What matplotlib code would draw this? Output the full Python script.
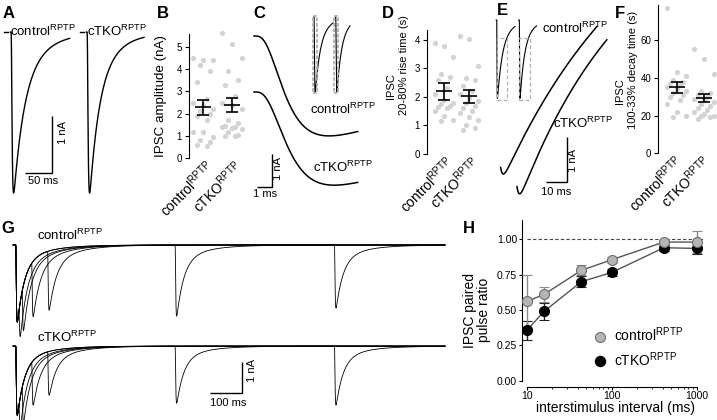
import numpy as np
import matplotlib
matplotlib.use("Agg")
import matplotlib.pyplot as plt
import matplotlib.transforms as mtransforms
from matplotlib.patches import Rectangle
from matplotlib.lines import Line2D

plt.rcParams['font.family'] = ['Liberation Sans', 'DejaVu Sans']
plt.rcParams['mathtext.fontset'] = 'custom'
plt.rcParams['mathtext.rm'] = 'Liberation Sans'
plt.rcParams['mathtext.it'] = 'Liberation Sans:italic'
plt.rcParams['mathtext.bf'] = 'Liberation Sans:bold'
plt.rcParams['axes.linewidth'] = 0.8

W, H = 717, 420
groups = [r'control$^{\mathrm{RPTP}}$', r'cTKO$^{\mathrm{RPTP}}$']

# A: example IPSCs (nA, ms)
a_amp = [2.84, 2.84]
a_rise = [1.1, 1.1]
a_decay = [20, 18]
a_slow = [0.25, 0.25]
a_slow_decay = [50, 45]
a_end = [110, 107]

# B: IPSC amplitude (nA)
b_ctrl = [4.5, 4.4, 4.4, 4.2, 3.9, 3.4, 2.65, 2.5, 2.4, 2.2, 2.1, 2.0, 1.9, 1.7,
          1.2, 1.2, 0.95, 0.8, 0.75, 0.6, 0.55]
b_ctko = [5.6, 5.1, 4.5, 3.9, 3.5, 3.3, 2.8, 2.5, 2.4, 2.2, 1.7, 1.6, 1.45, 1.4,
          1.4, 1.35, 1.3, 1.2, 1.05, 1.0, 1.0]
b_mean = [2.29, 2.37]
b_sem = [0.33, 0.31]

# C: rising phase
c_amp = [3.0, 2.8]
c_rise = [1.1, 1.2]
c_decay = [21, 21]
c_offset = [0, -1.68]

# D: 20-80% rise time
d_ctrl = [3.9, 3.8, 3.4, 2.8, 2.7, 2.6, 2.3, 2.1, 1.9, 1.8, 1.75, 1.7, 1.65, 1.6,
          1.5, 1.35, 1.2, 1.15]
d_ctko = [4.15, 4.05, 3.1, 2.65, 2.6, 2.4, 2.2, 2.1, 1.95, 1.85, 1.8, 1.7, 1.6,
          1.5, 1.45, 1.3, 1.2, 1.0, 0.9, 0.85]
d_mean = [2.2, 2.02]
d_sem = [0.29, 0.24]

# E: decay phase
e_amp = [7.0, 6.5]
e_decay = [70, 55]
e_onset = [-5.6, 2.5]
e_offset = [0, -0.94]
e_span = [(-1.3, 45.2), (6.6, 50.0)]

# F: 100-33% decay time
f_ctrl = [77, 43, 41, 39, 38, 37, 36, 35, 34, 33, 32, 31, 30, 28, 26, 22, 20, 19]
f_ctko = [55, 50, 42, 33, 32, 31, 30, 29, 28, 27, 26, 25, 24, 23, 22, 21, 20, 20,
          19, 18]
f_mean = [34.9, 29.1]
f_sem = [3.05, 2.1]

# G: paired pulses
g_isi = [10, 20, 50, 100, 500, 1000]
g_first = [2.43, 2.18]
g_second = [[1.1, 1.45, 1.75, 1.87, 2.24, 1.99],
            [0.95, 1.3, 1.4, 1.38, 1.8, 1.86]]
g_offset = [0, -3.19]

# H: paired pulse ratio
h_isi = [10, 16, 44, 100, 410, 1000]
h_ctrl = [0.56, 0.61, 0.78, 0.855, 0.98, 0.98]
h_ctrl_sem = [0.19, 0.055, 0.035, 0.02, 0.015, 0.08]
h_ctko = [0.355, 0.49, 0.70, 0.765, 0.94, 0.935]
h_ctko_sem = [0.065, 0.06, 0.04, 0.025, 0.02, 0.04]


def ipsc(t, amp, rise, decay, slow=0.0, slow_decay=1.0):
    def shape(s):
        s = np.clip(s, 0, None)
        return (1 - np.exp(-s / rise)) ** 4 * ((1 - slow) * np.exp(-s / decay)
                                              + slow * np.exp(-s / slow_decay))
    peak = shape(np.linspace(0, 5 * decay, 20001)).max()
    return -amp * shape(t) / peak


fig = plt.figure(figsize=(W / 100, H / 100), dpi=100)


def box_axes(l, t, r, b):
    return fig.add_axes([l / W, 1 - b / H, (r - l) / W, (b - t) / H])


def trace_ax(box, origin, scale):
    l, t, r, b = box
    ax = box_axes(*box)
    ax.set_xlim((l - origin[0]) / scale[0], (r - origin[0]) / scale[0])
    ax.set_ylim((origin[1] - b) / scale[1], (origin[1] - t) / scale[1])
    ax.axis('off')
    return ax


def ftext(x, y, s, **kw):
    fig.text(x / W, 1 - y / H, s, **kw)


def scalebar(ax, x, y, dx, dy):
    ax.plot([x - dx, x, x], [y, y, y + dy], color='k', lw=1.0,
            solid_capstyle='butt', solid_joinstyle='miter')


def strip(box, cats, top, vals, mean, sem, ticks, shift_px=1.5):
    l, t, r, b = box
    unit = cats[1] - cats[0]
    ax = box_axes(*box)
    ax.set_xlim((l - cats[0]) / unit, (r - cats[0]) / unit)
    ax.set_ylim(0, top)
    for k, v in enumerate(vals):
        jit = ((np.arange(len(v)) * 3) % 7 - 3) / 8.5
        ax.scatter(k + jit, v, s=14, color='#d3d3d3', lw=0, zorder=1, clip_on=False)
    ax.errorbar([0, 1], mean, yerr=sem, fmt='_', color='k', ms=11.5, mew=1.2,
                elinewidth=1.2, capsize=4.2, capthick=1.2, zorder=3)
    for s in ['top', 'right', 'bottom']:
        ax.spines[s].set_visible(False)
    ax.spines['left'].set_bounds(0, top)
    ax.set_yticks(ticks)
    ax.tick_params(axis='y', length=3, width=0.8, labelsize=7, pad=2)
    ax.set_xticks([0, 1])
    ax.set_xticklabels(groups, rotation=45, ha='right', va='top',
                       rotation_mode='anchor', fontsize=10)
    ax.tick_params(axis='x', length=0, pad=0)
    shift = mtransforms.ScaledTranslation(shift_px / 100, 0.0, fig.dpi_scale_trans)
    for lab in ax.get_xticklabels():
        lab.set_transform(lab.get_transform() + shift)
    return ax


# ---- A ----
ax = trace_ax((0, 20, 160, 200), (11, 32), (0.533, 56.7))
a_onset = [0, 142.6]
for k in range(2):
    t = np.linspace(-1, a_end[k], 1500)
    i = ipsc(t, a_amp[k], a_rise[k], a_decay[k], a_slow[k], a_slow_decay[k])
    ax.plot(a_onset[k] + t, i, color='k', lw=1.0)
    ax.plot([a_onset[k] - 14, a_onset[k] - 5], [0, 0], color='k', lw=1.0)
scalebar(ax, 76.4, -2.48, 50, 1)
ftext(10, 36, groups[0], fontsize=9.5)
ftext(87, 36, groups[1], fontsize=9.5)
ftext(63.3, 133, '1 nA', fontsize=8, rotation=90, ha='center', va='center')
ftext(43, 181, '50 ms', fontsize=8, ha='center', va='center')

# ---- B ----
strip((189, 34, 245, 158.3), (203.3, 231.7), 5.57, [b_ctrl, b_ctko], b_mean, b_sem,
      range(6))
ftext(161, 96, 'IPSC amplitude (nA)', fontsize=9.6, rotation=90, ha='center', va='center')

# ---- C ----
ax = trace_ax((245, 20, 365, 200), (254, 36), (15.7, 33.3))
t = np.linspace(0, 6.6, 500)
for k in range(2):
    ax.plot(t, ipsc(t, c_amp[k], c_rise[k], c_decay[k]) + c_offset[k], color='k', lw=1.1)
scalebar(ax, 1.166, -4.53, 1, 1)
ftext(310, 114, groups[0], fontsize=9.5)
ftext(313, 172, groups[1], fontsize=9.5)
ftext(278, 169, '1 nA', fontsize=8, rotation=90, ha='center', va='center')
ftext(265.5, 193.7, '1 ms', fontsize=8, ha='center', va='center')

# C inset
ax = trace_ax((305, 10, 360, 97), (314, 16.7), (0.24, 26.4))
c_in_onset = [0, 90.4]
c_in_end = [80, 60]
for k in range(2):
    t = np.linspace(-2, c_in_end[k], 1200)
    i = ipsc(t, a_amp[k], a_rise[k], a_decay[k], a_slow[k], a_slow_decay[k])
    ax.plot(c_in_onset[k] + t, i, color='k', lw=0.8)
    ax.add_patch(Rectangle((c_in_onset[k] - 5.5, -2.89), 16.7, 2.92, fill=False,
                           ec='#b0b0b0', lw=1.3, ls=(0, (2, 1)), zorder=3))

# ---- D ----
strip((426.7, 30, 483, 154), (443.5, 469), 4.35, [d_ctrl, d_ctko], d_mean, d_sem,
      range(5))
ftext(391, 86, 'IPSC', fontsize=8, rotation=90, ha='center', va='center')
ftext(404, 65, '20-80% rise time (s)', fontsize=8, rotation=90, ha='center', va='center')

# ---- E ----
ax = trace_ax((490, 15, 615, 205), (503.3, -141), (2.07, 45))
for k in range(2):
    t = np.linspace(e_span[k][0], e_span[k][1], 800)
    ax.plot(t, ipsc(t - e_onset[k], e_amp[k], 1.0, e_decay[k]) + e_offset[k],
            color='k', lw=1.1)
scalebar(ax, 30.6, -7.17, 10, 1)
ftext(541.7, 32.7, groups[0], fontsize=9.5)
ftext(552.7, 128, groups[1], fontsize=9.5)
ftext(573, 160, '1 nA', fontsize=8, rotation=90, ha='center', va='center')
ftext(556, 191.7, '10 ms', fontsize=8, ha='center', va='center')

# E inset
ax = trace_ax((490, 15, 545, 105), (496.7, 20), (0.24, 27.6))
e_in_onset = [0, 94.2]
e_in_end = [76, 72]
for k in range(2):
    t = np.linspace(-2, e_in_end[k], 1200)
    i = ipsc(t, a_amp[k], 0.6, a_decay[k], a_slow[k], a_slow_decay[k])
    ax.plot(e_in_onset[k] + t, i, color='k', lw=0.8)
    ax.add_patch(Rectangle((e_in_onset[k], -2.9), 43, 2.26, fill=False,
                           ec='#b0b0b0', lw=0.9, ls=(0, (3, 2)), zorder=3))

# ---- F ----
strip((658.3, 5, 717, 153.3), (676.7, 704), 78.5, [f_ctrl, f_ctko], f_mean, f_sem,
      [0, 20, 40, 60], shift_px=-2.5)
ftext(620.5, 91, 'IPSC', fontsize=8, rotation=90, ha='center', va='center')
ftext(633.5, 70, '100-33% decay time (s)', fontsize=8, rotation=90, ha='center',
      va='center')

# ---- G ----
ax = trace_ax((0, 225, 460, 420), (15.7, 245), (0.3187, 31.7))
t = np.linspace(-8, 1347, 8000)
for k in range(2):
    first = ipsc(t, g_first[k], 1.1, 22, 0.2, 80)
    for isi, a2 in zip(g_isi, g_second[k]):
        i = first + ipsc(t - isi, a2, 1.1, 22, 0.2, 80) + g_offset[k]
        ax.plot(t, i, color='k', lw=0.6)
scalebar(ax, 709, -4.68, 100, 1)
ftext(37.3, 239.5, groups[0], fontsize=9.5)
ftext(36.7, 341.5, groups[1], fontsize=9.5)
ftext(252, 371, '1 nA', fontsize=8, rotation=90, ha='center', va='center')
ftext(228, 403.3, '100 ms', fontsize=8, ha='center', va='center')

# ---- H ----
ax = box_axes(526.7, 220, 703, 380.7)
ax.set_xscale('log')
ax.set_xlim(10, 1186)
ax.set_ylim(0, 1.136)
ax.axhline(1, color='#444444', lw=0.8, ls=(0, (3, 2)), zorder=1)
series = [(h_ctko, h_ctko_sem, 'k', 'k', '#222222'),
          (h_ctrl, h_ctrl_sem, '#b5b5b5', '#6e6e6e', '#8a8a8a')]
for vals, sem, fc, ec, bc in series:
    eb = ax.errorbar(h_isi, vals, yerr=sem, fmt='o-', color='#555555', lw=1.0,
                     mfc=fc, mec=ec, mew=0.8, ms=7.2, ecolor=bc, elinewidth=1.0,
                     capsize=3.6, capthick=1.0, zorder=3)
    for a in [eb[0], *eb[1], *eb[2]]:
        a.set_clip_on(False)
for s in ['top', 'right']:
    ax.spines[s].set_visible(False)
ax.spines['left'].set_position(('outward', 3.6))
ax.spines['bottom'].set_position(('outward', 4.3))
ax.spines['left'].set_bounds(0, 1.136)
ax.spines['bottom'].set_bounds(10, 1000)
ax.set_xticks([10, 100, 1000])
ax.set_xticklabels(['10', '100', '1000'])
ax.set_yticks([0, 0.25, 0.5, 0.75, 1.0])
ax.set_yticklabels(['0.00', '0.25', '0.50', '0.75', '1.00'])
ax.tick_params(which='major', length=2.3, width=0.8, labelsize=7.5, pad=1)
ax.tick_params(which='minor', length=1.5, width=0.6)
handles = [Line2D([], [], marker='o', ls='none', mfc='#b5b5b5', mec='#6e6e6e', mew=0.8, ms=7.2),
           Line2D([], [], marker='o', ls='none', mfc='k', mec='k', ms=7.2)]
ax.legend(handles, groups, loc='center left', bbox_to_anchor=(593 / W, 1 - 347.5 / H),
          bbox_transform=fig.transFigure, frameon=False, fontsize=10, handlelength=1.0,
          handletextpad=0.5, labelspacing=0.45, borderpad=0, borderaxespad=0)
ftext(477, 310, 'IPSC paired\npulse ratio', fontsize=10, rotation=90, ha='center',
      va='center', linespacing=1.0, multialignment='center')
ftext(615, 408, 'interstimulus interval (ms)', fontsize=10, ha='center', va='center')

# panel letters
for letter, x, y in [('A', 3, 18.3), ('B', 156.7, 18.3), ('C', 253.3, 18.3),
                     ('D', 381.7, 18.3), ('E', 496.7, 15), ('F', 615, 18.3),
                     ('G', 1.7, 233.3), ('H', 463.3, 233.3)]:
    ftext(x, y, letter, fontsize=12, fontweight='bold', va='baseline')

fig.savefig('out.png', dpi=100)
